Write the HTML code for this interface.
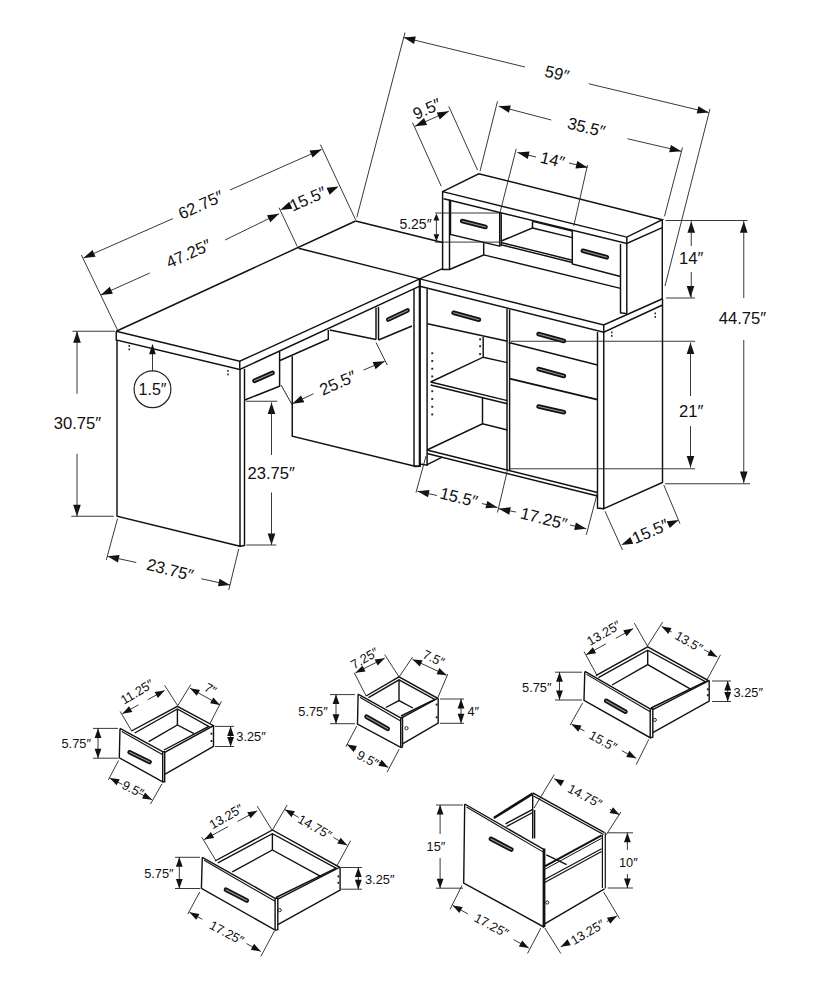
<!DOCTYPE html>
<html><head><meta charset="utf-8"><style>
html,body{margin:0;padding:0;background:#fff;}
svg{display:block;}
text{font-family:"Liberation Sans",sans-serif;fill:#111;}
</style></head><body>
<svg width="824" height="1000" viewBox="0 0 824 1000">
<polyline points="116.25,331.25 355.60,221.00" fill="none" stroke="#111" stroke-width="1.45" stroke-linejoin="miter" stroke-linecap="butt"/>
<polyline points="355.60,221.00 442.50,242.50" fill="none" stroke="#111" stroke-width="1.45" stroke-linejoin="miter" stroke-linecap="butt"/>
<polyline points="116.25,331.25 239.75,361.25 419.80,278.90 443.10,268.30" fill="none" stroke="#111" stroke-width="1.45" stroke-linejoin="miter" stroke-linecap="butt"/>
<polyline points="116.25,331.25 116.25,340.00 239.75,369.50 419.80,286.20" fill="none" stroke="#111" stroke-width="1.45" stroke-linejoin="miter" stroke-linecap="butt"/>
<polyline points="239.75,361.25 239.75,368.75" fill="none" stroke="#111" stroke-width="1.45" stroke-linejoin="miter" stroke-linecap="butt"/>
<polyline points="298.50,248.20 419.80,278.90" fill="none" stroke="#111" stroke-width="1.45" stroke-linejoin="miter" stroke-linecap="butt"/>
<polyline points="117.00,340.00 117.00,516.25 240.00,546.25 240.00,368.75" fill="none" stroke="#111" stroke-width="1.45" stroke-linejoin="miter" stroke-linecap="butt"/>
<polyline points="244.50,368.75 244.50,546.00" fill="none" stroke="#111" stroke-width="1.45" stroke-linejoin="miter" stroke-linecap="butt"/>
<polyline points="240.00,546.25 244.50,545.50" fill="none" stroke="#111" stroke-width="1.45" stroke-linejoin="miter" stroke-linecap="butt"/>
<polyline points="244.75,400.00 279.60,386.25 279.60,351.40" fill="none" stroke="#111" stroke-width="1.45" stroke-linejoin="miter" stroke-linecap="butt"/>
<line x1="254.51" y1="380.81" x2="272.49" y2="372.94" stroke="#111" stroke-width="4.6" stroke-linecap="round"/>
<line x1="254.51" y1="380.81" x2="272.49" y2="372.94" stroke="#9a9a9a" stroke-width="1.1" stroke-linecap="round"/>
<polyline points="281.00,385.00 292.25,405.00" fill="none" stroke="#111" stroke-width="0.9" stroke-linejoin="miter" stroke-linecap="butt"/>
<polyline points="292.25,356.25 292.25,436.25 415.00,466.25" fill="none" stroke="#111" stroke-width="1.45" stroke-linejoin="miter" stroke-linecap="butt"/>
<polyline points="280.00,360.50 328.30,339.20 328.30,330.00" fill="none" stroke="#111" stroke-width="1.45" stroke-linejoin="miter" stroke-linecap="butt"/>
<polyline points="329.75,330.00 376.00,339.50" fill="none" stroke="#111" stroke-width="1.45" stroke-linejoin="miter" stroke-linecap="butt"/>
<polyline points="376.00,339.50 376.00,307.50" fill="none" stroke="#111" stroke-width="1.45" stroke-linejoin="miter" stroke-linecap="butt"/>
<polyline points="378.50,340.00 378.50,307.00" fill="none" stroke="#111" stroke-width="1.45" stroke-linejoin="miter" stroke-linecap="butt"/>
<polyline points="378.50,340.00 412.00,326.00" fill="none" stroke="#111" stroke-width="1.45" stroke-linejoin="miter" stroke-linecap="butt"/>
<line x1="388.25" y1="319.53" x2="407.5" y2="310.47" stroke="#111" stroke-width="4.6" stroke-linecap="round"/>
<line x1="388.25" y1="319.53" x2="407.5" y2="310.47" stroke="#9a9a9a" stroke-width="1.1" stroke-linecap="round"/>
<polyline points="414.00,289.00 414.00,466.25" fill="none" stroke="#111" stroke-width="1.45" stroke-linejoin="miter" stroke-linecap="butt"/>
<polyline points="419.80,278.90 419.80,466.00 414.00,466.25" fill="none" stroke="#111" stroke-width="2.2" stroke-linejoin="miter" stroke-linecap="butt"/>
<polyline points="427.10,289.10 427.10,465.10 419.80,464.00" fill="none" stroke="#111" stroke-width="1.45" stroke-linejoin="miter" stroke-linecap="butt"/>
<polyline points="419.80,278.90 603.75,325.00 662.50,298.75" fill="none" stroke="#111" stroke-width="1.45" stroke-linejoin="miter" stroke-linecap="butt"/>
<polyline points="419.80,286.20 603.75,332.20 662.50,305.00" fill="none" stroke="#111" stroke-width="1.45" stroke-linejoin="miter" stroke-linecap="butt"/>
<polyline points="603.75,325.00 603.75,331.25" fill="none" stroke="#111" stroke-width="1.45" stroke-linejoin="miter" stroke-linecap="butt"/>
<polyline points="662.50,298.75 662.50,482.50 603.75,508.75 603.75,331.25" fill="none" stroke="#111" stroke-width="1.45" stroke-linejoin="miter" stroke-linecap="butt"/>
<polyline points="597.50,332.00 597.50,508.00 603.75,508.75" fill="none" stroke="#111" stroke-width="1.45" stroke-linejoin="miter" stroke-linecap="butt"/>
<polyline points="427.50,323.75 507.50,341.25" fill="none" stroke="#111" stroke-width="1.45" stroke-linejoin="miter" stroke-linecap="butt"/>
<line x1="453.56" y1="312.79" x2="478.94" y2="319.71" stroke="#111" stroke-width="4.6" stroke-linecap="round"/>
<line x1="453.56" y1="312.79" x2="478.94" y2="319.71" stroke="#9a9a9a" stroke-width="1.1" stroke-linecap="round"/>
<polyline points="507.00,309.00 507.00,470.00" fill="none" stroke="#111" stroke-width="1.45" stroke-linejoin="miter" stroke-linecap="butt"/>
<polyline points="509.60,309.60 509.60,470.00" fill="none" stroke="#111" stroke-width="1.45" stroke-linejoin="miter" stroke-linecap="butt"/>
<polyline points="508.75,342.50 597.50,365.00" fill="none" stroke="#111" stroke-width="1.45" stroke-linejoin="miter" stroke-linecap="butt"/>
<line x1="538.56" y1="334.04" x2="563.94" y2="340.96" stroke="#111" stroke-width="4.6" stroke-linecap="round"/>
<line x1="538.56" y1="334.04" x2="563.94" y2="340.96" stroke="#9a9a9a" stroke-width="1.1" stroke-linecap="round"/>
<polyline points="509.60,378.60 597.50,399.60" fill="none" stroke="#111" stroke-width="2.0" stroke-linejoin="miter" stroke-linecap="butt"/>
<line x1="538.56" y1="369.04" x2="563.94" y2="375.96" stroke="#111" stroke-width="4.6" stroke-linecap="round"/>
<line x1="538.56" y1="369.04" x2="563.94" y2="375.96" stroke="#9a9a9a" stroke-width="1.1" stroke-linecap="round"/>
<line x1="538.57" y1="406.49" x2="563.93" y2="412.26" stroke="#111" stroke-width="4.6" stroke-linecap="round"/>
<line x1="538.57" y1="406.49" x2="563.93" y2="412.26" stroke="#9a9a9a" stroke-width="1.1" stroke-linecap="round"/>
<polyline points="430.60,382.00 507.30,400.60" fill="none" stroke="#111" stroke-width="1.45" stroke-linejoin="miter" stroke-linecap="butt"/>
<polyline points="430.60,382.00 483.20,357.20 507.30,362.60" fill="none" stroke="#111" stroke-width="1.45" stroke-linejoin="miter" stroke-linecap="butt"/>
<polyline points="483.20,337.00 483.20,357.20" fill="none" stroke="#111" stroke-width="1.45" stroke-linejoin="miter" stroke-linecap="butt"/>
<polyline points="430.60,385.00 507.30,403.70" fill="none" stroke="#111" stroke-width="1.45" stroke-linejoin="miter" stroke-linecap="butt"/>
<polyline points="482.50,397.50 482.50,423.75" fill="none" stroke="#111" stroke-width="1.45" stroke-linejoin="miter" stroke-linecap="butt"/>
<polyline points="427.00,450.00 482.50,423.75 507.50,430.00" fill="none" stroke="#111" stroke-width="1.45" stroke-linejoin="miter" stroke-linecap="butt"/>
<polyline points="427.00,450.00 597.50,492.50" fill="none" stroke="#111" stroke-width="1.45" stroke-linejoin="miter" stroke-linecap="butt"/>
<polyline points="427.00,453.50 597.50,496.00" fill="none" stroke="#111" stroke-width="1.45" stroke-linejoin="miter" stroke-linecap="butt"/>
<rect x="431.3" y="352.3" width="1.9" height="1.9" fill="#222"/>
<rect x="431.3" y="360" width="1.9" height="1.9" fill="#222"/>
<rect x="431.3" y="367.8" width="1.9" height="1.9" fill="#222"/>
<rect x="431.3" y="375.5" width="1.9" height="1.9" fill="#222"/>
<rect x="431.3" y="390.3" width="1.9" height="1.9" fill="#222"/>
<rect x="431.3" y="398" width="1.9" height="1.9" fill="#222"/>
<rect x="431.3" y="405.8" width="1.9" height="1.9" fill="#222"/>
<rect x="431.3" y="413.5" width="1.9" height="1.9" fill="#222"/>
<rect x="479.2" y="338.4" width="1.9" height="1.9" fill="#222"/>
<rect x="479.2" y="345.3" width="1.9" height="1.9" fill="#222"/>
<rect x="479.2" y="353.1" width="1.9" height="1.9" fill="#222"/>
<rect x="128.5" y="345" width="1.5" height="1.8" fill="#222"/>
<rect x="128.5" y="348.5" width="1.5" height="1.8" fill="#222"/>
<rect x="227.2" y="370" width="1.5" height="1.8" fill="#222"/>
<rect x="227.2" y="373.5" width="1.5" height="1.8" fill="#222"/>
<rect x="654.5" y="312.5" width="1.5" height="1.8" fill="#222"/>
<rect x="654.5" y="316" width="1.5" height="1.8" fill="#222"/>
<rect x="611" y="331.5" width="1.5" height="1.8" fill="#222"/>
<rect x="611" y="335" width="1.5" height="1.8" fill="#222"/>
<polyline points="442.60,191.60 478.75,173.75 662.30,219.70 626.80,237.10 442.60,191.60 442.60,269.50 449.50,269.50 449.50,199.50" fill="none" stroke="#111" stroke-width="1.45" stroke-linejoin="miter" stroke-linecap="butt"/>
<polyline points="443.60,198.80 626.80,243.40 662.30,227.60" fill="none" stroke="#111" stroke-width="1.45" stroke-linejoin="miter" stroke-linecap="butt"/>
<polyline points="626.80,237.10 626.80,313.60" fill="none" stroke="#111" stroke-width="1.45" stroke-linejoin="miter" stroke-linecap="butt"/>
<polyline points="662.30,219.70 662.30,298.75" fill="none" stroke="#111" stroke-width="1.45" stroke-linejoin="miter" stroke-linecap="butt"/>
<polyline points="620.50,244.00 620.50,312.80 626.80,313.60" fill="none" stroke="#111" stroke-width="1.45" stroke-linejoin="miter" stroke-linecap="butt"/>
<polyline points="449.50,269.50 483.70,254.90 483.70,242.50" fill="none" stroke="#111" stroke-width="1.45" stroke-linejoin="miter" stroke-linecap="butt"/>
<polyline points="450.50,201.00 450.50,234.50 499.70,246.20 499.70,212.70" fill="none" stroke="#111" stroke-width="1.45" stroke-linejoin="miter" stroke-linecap="butt"/>
<line x1="462.17" y1="220.97" x2="485.53" y2="226.93" stroke="#111" stroke-width="4.6" stroke-linecap="round"/>
<line x1="462.17" y1="220.97" x2="485.53" y2="226.93" stroke="#9a9a9a" stroke-width="1.1" stroke-linecap="round"/>
<polyline points="501.20,213.00 501.20,246.20" fill="none" stroke="#111" stroke-width="1.45" stroke-linejoin="miter" stroke-linecap="butt"/>
<polyline points="501.20,241.00 532.50,228.00 532.50,221.40" fill="none" stroke="#111" stroke-width="1.45" stroke-linejoin="miter" stroke-linecap="butt"/>
<polyline points="532.50,228.00 572.30,237.60" fill="none" stroke="#111" stroke-width="1.45" stroke-linejoin="miter" stroke-linecap="butt"/>
<polyline points="532.50,221.40 572.30,231.00" fill="none" stroke="#111" stroke-width="1.45" stroke-linejoin="miter" stroke-linecap="butt"/>
<polyline points="501.20,242.50 572.30,260.20" fill="none" stroke="#111" stroke-width="1.45" stroke-linejoin="miter" stroke-linecap="butt"/>
<polyline points="501.20,244.70 572.30,262.50" fill="none" stroke="#111" stroke-width="1.45" stroke-linejoin="miter" stroke-linecap="butt"/>
<polyline points="483.70,254.90 620.50,288.40" fill="none" stroke="#111" stroke-width="1.45" stroke-linejoin="miter" stroke-linecap="butt"/>
<polyline points="572.30,230.80 572.30,263.90 620.50,276.50" fill="none" stroke="#111" stroke-width="1.45" stroke-linejoin="miter" stroke-linecap="butt"/>
<line x1="582.86" y1="250.79" x2="606.74" y2="257.31" stroke="#111" stroke-width="4.6" stroke-linecap="round"/>
<line x1="582.86" y1="250.79" x2="606.74" y2="257.31" stroke="#9a9a9a" stroke-width="1.1" stroke-linecap="round"/>
<polyline points="81.40,255.00 118.00,331.00" fill="none" stroke="#222" stroke-width="0.9" stroke-linejoin="miter" stroke-linecap="butt"/>
<polyline points="320.40,144.60 355.60,219.80" fill="none" stroke="#222" stroke-width="0.9" stroke-linejoin="miter" stroke-linecap="butt"/>
<polyline points="83.50,258.00 172.90,218.60" fill="none" stroke="#222" stroke-width="0.9" stroke-linejoin="miter" stroke-linecap="butt"/>
<polyline points="230.00,190.00 321.60,149.40" fill="none" stroke="#222" stroke-width="0.9" stroke-linejoin="miter" stroke-linecap="butt"/>
<polygon points="83.50,258.00 95.56,256.84 92.49,249.88" fill="#111"/>
<polygon points="321.60,149.40 309.55,150.59 312.63,157.53" fill="#111"/>
<text x="200.80" y="205.00" font-size="16.6" text-anchor="middle" dominant-baseline="central" transform="rotate(-24.00 200.80 205.00)">62.75&#8243;</text>
<polyline points="100.80,295.00 149.80,273.00" fill="none" stroke="#222" stroke-width="0.9" stroke-linejoin="miter" stroke-linecap="butt"/>
<polyline points="225.00,240.00 279.00,213.70" fill="none" stroke="#222" stroke-width="0.9" stroke-linejoin="miter" stroke-linecap="butt"/>
<polygon points="100.80,295.00 112.85,293.76 109.73,286.82" fill="#111"/>
<polygon points="279.00,213.70 267.00,215.32 270.32,222.15" fill="#111"/>
<text x="188.60" y="253.80" font-size="16.6" text-anchor="middle" dominant-baseline="central" transform="rotate(-24.00 188.60 253.80)">47.25&#8243;</text>
<polyline points="279.00,207.70 297.30,246.50" fill="none" stroke="#222" stroke-width="0.9" stroke-linejoin="miter" stroke-linecap="butt"/>
<polygon points="280.30,210.00 292.34,208.71 289.20,201.79" fill="#111"/>
<polygon points="338.60,186.60 326.55,187.86 329.68,194.79" fill="#111"/>
<text x="308.00" y="199.00" font-size="16.6" text-anchor="middle" dominant-baseline="central" transform="rotate(-24.00 308.00 199.00)">15.5&#8243;</text>
<polyline points="405.00,32.50 356.80,217.40" fill="none" stroke="#222" stroke-width="0.9" stroke-linejoin="miter" stroke-linecap="butt"/>
<polyline points="710.00,108.75 665.00,286.00" fill="none" stroke="#222" stroke-width="0.9" stroke-linejoin="miter" stroke-linecap="butt"/>
<polyline points="403.75,37.50 525.00,67.00" fill="none" stroke="#222" stroke-width="0.9" stroke-linejoin="miter" stroke-linecap="butt"/>
<polyline points="588.75,83.75 708.75,112.50" fill="none" stroke="#222" stroke-width="0.9" stroke-linejoin="miter" stroke-linecap="butt"/>
<polygon points="403.75,37.50 414.03,43.91 415.82,36.53" fill="#111"/>
<polygon points="708.75,112.50 698.45,106.13 696.68,113.52" fill="#111"/>
<text x="557.00" y="73.75" font-size="16.6" text-anchor="middle" dominant-baseline="central" transform="rotate(14.00 557.00 73.75)">59&#8243;</text>
<polyline points="412.50,122.50 441.25,186.25" fill="none" stroke="#222" stroke-width="0.9" stroke-linejoin="miter" stroke-linecap="butt"/>
<polyline points="448.75,106.25 477.50,170.00" fill="none" stroke="#222" stroke-width="0.9" stroke-linejoin="miter" stroke-linecap="butt"/>
<polyline points="415.00,126.25 448.75,111.25" fill="none" stroke="#222" stroke-width="0.9" stroke-linejoin="miter" stroke-linecap="butt"/>
<polygon points="415.00,126.25 427.05,125.05 423.97,118.11" fill="#111"/>
<polygon points="448.75,111.25 436.70,112.45 439.78,119.39" fill="#111"/>
<text x="427.00" y="109.00" font-size="16.6" text-anchor="middle" dominant-baseline="central" transform="rotate(-24.00 427.00 109.00)">9.5&#8243;</text>
<polyline points="497.50,101.25 480.00,171.25" fill="none" stroke="#222" stroke-width="0.9" stroke-linejoin="miter" stroke-linecap="butt"/>
<polyline points="682.50,147.50 664.50,216.25" fill="none" stroke="#222" stroke-width="0.9" stroke-linejoin="miter" stroke-linecap="butt"/>
<polyline points="498.75,106.25 551.25,120.00" fill="none" stroke="#222" stroke-width="0.9" stroke-linejoin="miter" stroke-linecap="butt"/>
<polyline points="627.50,138.75 681.25,151.25" fill="none" stroke="#222" stroke-width="0.9" stroke-linejoin="miter" stroke-linecap="butt"/>
<polygon points="498.75,106.25 508.91,112.84 510.84,105.49" fill="#111"/>
<polygon points="681.25,151.25 670.91,144.94 669.19,152.35" fill="#111"/>
<text x="586.25" y="127.50" font-size="16.6" text-anchor="middle" dominant-baseline="central" transform="rotate(14.00 586.25 127.50)">35.5&#8243;</text>
<polyline points="516.25,148.75 500.00,212.50" fill="none" stroke="#222" stroke-width="0.9" stroke-linejoin="miter" stroke-linecap="butt"/>
<polyline points="587.50,165.00 573.75,226.00" fill="none" stroke="#222" stroke-width="0.9" stroke-linejoin="miter" stroke-linecap="butt"/>
<polyline points="517.50,152.50 536.00,157.00" fill="none" stroke="#222" stroke-width="0.9" stroke-linejoin="miter" stroke-linecap="butt"/>
<polyline points="569.00,163.00 587.50,167.50" fill="none" stroke="#222" stroke-width="0.9" stroke-linejoin="miter" stroke-linecap="butt"/>
<polygon points="517.50,152.50 527.78,158.91 529.57,151.53" fill="#111"/>
<polygon points="587.50,167.50 577.22,161.09 575.43,168.47" fill="#111"/>
<text x="552.50" y="160.00" font-size="16.6" text-anchor="middle" dominant-baseline="central" transform="rotate(14.00 552.50 160.00)">14&#8243;</text>
<polyline points="435.00,213.00 500.00,213.00" fill="none" stroke="#222" stroke-width="0.9" stroke-linejoin="miter" stroke-linecap="butt"/>
<polyline points="435.00,242.10 500.00,242.10" fill="none" stroke="#222" stroke-width="0.9" stroke-linejoin="miter" stroke-linecap="butt"/>
<polygon points="436.40,213.60 433.50,220.60 439.30,220.60" fill="#111"/>
<polygon points="436.40,241.20 439.30,234.20 433.50,234.20" fill="#111"/>
<polyline points="436.40,218.00 436.40,236.00" fill="none" stroke="#222" stroke-width="0.9" stroke-linejoin="miter" stroke-linecap="butt"/>
<text x="415.50" y="224.40" font-size="14" text-anchor="middle" dominant-baseline="central" transform="rotate(0.00 415.50 224.40)">5.25&#8243;</text>
<polyline points="665.50,220.50 747.50,220.50" fill="none" stroke="#222" stroke-width="0.9" stroke-linejoin="miter" stroke-linecap="butt"/>
<polyline points="666.00,298.00 695.00,298.00" fill="none" stroke="#222" stroke-width="0.9" stroke-linejoin="miter" stroke-linecap="butt"/>
<polygon points="691.25,221.25 687.45,232.75 695.05,232.75" fill="#111"/>
<polygon points="690.50,297.50 694.30,286.00 686.70,286.00" fill="#111"/>
<polyline points="691.25,221.25 691.25,246.00" fill="none" stroke="#222" stroke-width="0.9" stroke-linejoin="miter" stroke-linecap="butt"/>
<polyline points="691.25,272.00 691.25,297.50" fill="none" stroke="#222" stroke-width="0.9" stroke-linejoin="miter" stroke-linecap="butt"/>
<text x="691.25" y="258.75" font-size="16.6" text-anchor="middle" dominant-baseline="central" transform="rotate(0.00 691.25 258.75)">14&#8243;</text>
<polygon points="743.75,221.25 739.95,232.75 747.55,232.75" fill="#111"/>
<polygon points="743.75,483.00 747.55,471.50 739.95,471.50" fill="#111"/>
<polyline points="743.75,221.25 743.75,298.00" fill="none" stroke="#222" stroke-width="0.9" stroke-linejoin="miter" stroke-linecap="butt"/>
<polyline points="743.75,340.00 743.75,483.00" fill="none" stroke="#222" stroke-width="0.9" stroke-linejoin="miter" stroke-linecap="butt"/>
<polyline points="665.00,483.75 750.00,483.75" fill="none" stroke="#222" stroke-width="0.9" stroke-linejoin="miter" stroke-linecap="butt"/>
<text x="742.50" y="318.75" font-size="16.6" text-anchor="middle" dominant-baseline="central" transform="rotate(0.00 742.50 318.75)">44.75&#8243;</text>
<polyline points="511.00,341.25 695.00,341.25" fill="none" stroke="#222" stroke-width="0.9" stroke-linejoin="miter" stroke-linecap="butt"/>
<polyline points="510.00,468.75 695.00,468.75" fill="none" stroke="#222" stroke-width="0.9" stroke-linejoin="miter" stroke-linecap="butt"/>
<polygon points="690.50,342.50 686.70,354.00 694.30,354.00" fill="#111"/>
<polygon points="690.50,467.50 694.30,456.00 686.70,456.00" fill="#111"/>
<polyline points="690.50,342.50 690.50,396.00" fill="none" stroke="#222" stroke-width="0.9" stroke-linejoin="miter" stroke-linecap="butt"/>
<polyline points="690.50,426.00 690.50,467.50" fill="none" stroke="#222" stroke-width="0.9" stroke-linejoin="miter" stroke-linecap="butt"/>
<text x="691.25" y="411.25" font-size="16.6" text-anchor="middle" dominant-baseline="central" transform="rotate(0.00 691.25 411.25)">21&#8243;</text>
<polyline points="72.50,331.25 115.00,331.25" fill="none" stroke="#222" stroke-width="0.9" stroke-linejoin="miter" stroke-linecap="butt"/>
<polyline points="71.25,516.25 113.75,516.25" fill="none" stroke="#222" stroke-width="0.9" stroke-linejoin="miter" stroke-linecap="butt"/>
<polygon points="77.00,331.25 73.20,342.75 80.80,342.75" fill="#111"/>
<polygon points="77.00,516.25 80.80,504.75 73.20,504.75" fill="#111"/>
<polyline points="77.00,331.25 77.00,393.75" fill="none" stroke="#222" stroke-width="0.9" stroke-linejoin="miter" stroke-linecap="butt"/>
<polyline points="77.00,453.75 77.00,516.25" fill="none" stroke="#222" stroke-width="0.9" stroke-linejoin="miter" stroke-linecap="butt"/>
<text x="77.50" y="423.75" font-size="16.6" text-anchor="middle" dominant-baseline="central" transform="rotate(0.00 77.50 423.75)">30.75&#8243;</text>
<circle cx="152.5" cy="389.2" r="18.4" fill="none" stroke="#222" stroke-width="1.2"/>
<polyline points="152.50,371.00 152.50,350.00" fill="none" stroke="#222" stroke-width="0.9" stroke-linejoin="miter" stroke-linecap="butt"/>
<polygon points="152.50,343.70 149.20,354.20 155.80,354.20" fill="#111"/>
<text x="152.50" y="389.00" font-size="16" text-anchor="middle" dominant-baseline="central" transform="rotate(0.00 152.50 389.00)">1.5&#8243;</text>
<polygon points="292.25,403.75 304.27,402.29 301.04,395.42" fill="#111"/>
<polygon points="384.75,361.25 372.67,362.11 375.56,369.14" fill="#111"/>
<polyline points="292.25,403.75 313.50,393.75" fill="none" stroke="#222" stroke-width="0.9" stroke-linejoin="miter" stroke-linecap="butt"/>
<polyline points="363.50,370.00 384.75,361.25" fill="none" stroke="#222" stroke-width="0.9" stroke-linejoin="miter" stroke-linecap="butt"/>
<polyline points="376.00,342.50 387.25,365.00" fill="none" stroke="#222" stroke-width="0.9" stroke-linejoin="miter" stroke-linecap="butt"/>
<text x="338.00" y="383.00" font-size="16.6" text-anchor="middle" dominant-baseline="central" transform="rotate(-24.00 338.00 383.00)">25.5&#8243;</text>
<polyline points="246.00,401.25 277.25,401.25" fill="none" stroke="#222" stroke-width="0.9" stroke-linejoin="miter" stroke-linecap="butt"/>
<polyline points="246.25,545.00 276.25,545.00" fill="none" stroke="#222" stroke-width="0.9" stroke-linejoin="miter" stroke-linecap="butt"/>
<polygon points="271.50,402.50 267.70,414.00 275.30,414.00" fill="#111"/>
<polygon points="271.50,545.00 275.30,533.50 267.70,533.50" fill="#111"/>
<polyline points="271.50,402.50 271.50,455.00" fill="none" stroke="#222" stroke-width="0.9" stroke-linejoin="miter" stroke-linecap="butt"/>
<polyline points="271.50,492.50 271.50,545.00" fill="none" stroke="#222" stroke-width="0.9" stroke-linejoin="miter" stroke-linecap="butt"/>
<text x="271.25" y="473.75" font-size="16.6" text-anchor="middle" dominant-baseline="central" transform="rotate(0.00 271.25 473.75)">23.75&#8243;</text>
<polyline points="117.50,518.75 106.25,560.00" fill="none" stroke="#222" stroke-width="0.9" stroke-linejoin="miter" stroke-linecap="butt"/>
<polyline points="238.75,548.75 228.75,590.00" fill="none" stroke="#222" stroke-width="0.9" stroke-linejoin="miter" stroke-linecap="butt"/>
<polygon points="107.50,556.25 117.93,562.41 119.54,554.98" fill="#111"/>
<polygon points="230.00,585.00 219.57,578.84 217.96,586.27" fill="#111"/>
<polyline points="107.50,556.25 136.25,562.50" fill="none" stroke="#222" stroke-width="0.9" stroke-linejoin="miter" stroke-linecap="butt"/>
<polyline points="201.25,578.75 230.00,585.00" fill="none" stroke="#222" stroke-width="0.9" stroke-linejoin="miter" stroke-linecap="butt"/>
<text x="170.00" y="570.00" font-size="16.6" text-anchor="middle" dominant-baseline="central" transform="rotate(14.00 170.00 570.00)">23.75&#8243;</text>
<polyline points="426.00,456.00 416.00,492.50" fill="none" stroke="#222" stroke-width="0.9" stroke-linejoin="miter" stroke-linecap="butt"/>
<polyline points="507.50,470.00 497.50,512.50" fill="none" stroke="#222" stroke-width="0.9" stroke-linejoin="miter" stroke-linecap="butt"/>
<polygon points="417.50,491.25 427.97,497.34 429.54,489.91" fill="#111"/>
<polygon points="497.50,507.50 487.31,500.96 485.42,508.32" fill="#111"/>
<polyline points="417.50,491.25 437.00,495.50" fill="none" stroke="#222" stroke-width="0.9" stroke-linejoin="miter" stroke-linecap="butt"/>
<polyline points="482.00,503.50 497.50,507.50" fill="none" stroke="#222" stroke-width="0.9" stroke-linejoin="miter" stroke-linecap="butt"/>
<text x="458.75" y="497.50" font-size="16.6" text-anchor="middle" dominant-baseline="central" transform="rotate(14.00 458.75 497.50)">15.5&#8243;</text>
<polyline points="597.50,492.50 586.25,535.00" fill="none" stroke="#222" stroke-width="0.9" stroke-linejoin="miter" stroke-linecap="butt"/>
<polygon points="498.75,508.75 509.28,514.73 510.77,507.28" fill="#111"/>
<polygon points="586.25,528.75 575.86,522.53 574.20,529.95" fill="#111"/>
<polyline points="498.75,508.75 516.00,512.00" fill="none" stroke="#222" stroke-width="0.9" stroke-linejoin="miter" stroke-linecap="butt"/>
<polyline points="570.00,525.00 586.25,528.75" fill="none" stroke="#222" stroke-width="0.9" stroke-linejoin="miter" stroke-linecap="butt"/>
<text x="543.75" y="518.75" font-size="16.6" text-anchor="middle" dominant-baseline="central" transform="rotate(14.00 543.75 518.75)">17.25&#8243;</text>
<polyline points="605.00,511.25 622.50,550.00" fill="none" stroke="#222" stroke-width="0.9" stroke-linejoin="miter" stroke-linecap="butt"/>
<polyline points="663.75,485.00 680.00,523.75" fill="none" stroke="#222" stroke-width="0.9" stroke-linejoin="miter" stroke-linecap="butt"/>
<polygon points="621.25,545.00 633.31,543.86 630.25,536.90" fill="#111"/>
<polygon points="678.75,520.00 666.69,521.14 669.75,528.10" fill="#111"/>
<text x="650.50" y="531.50" font-size="16.6" text-anchor="middle" dominant-baseline="central" transform="rotate(-24.00 650.50 531.50)">15.5&#8243;</text>
<polyline points="426.70,464.90 442.20,457.10" fill="none" stroke="#111" stroke-width="1.45" stroke-linejoin="miter" stroke-linecap="butt"/>
<polyline points="120.00,728.40 119.30,757.80 162.70,781.80 162.70,751.70 120.00,728.40" fill="none" stroke="#111" stroke-width="1.4" stroke-linejoin="miter" stroke-linecap="butt"/>
<polyline points="162.70,751.70 164.70,751.70 164.70,781.80 162.70,781.80" fill="none" stroke="#111" stroke-width="1.4" stroke-linejoin="miter" stroke-linecap="butt"/>
<polyline points="131.40,731.00 177.40,706.30 213.50,725.70 164.70,752.40" fill="none" stroke="#111" stroke-width="1.4" stroke-linejoin="miter" stroke-linecap="butt"/>
<polyline points="134.70,733.00 177.40,709.00 208.80,726.40 164.00,750.00" fill="none" stroke="#111" stroke-width="1.4" stroke-linejoin="miter" stroke-linecap="butt"/>
<polyline points="213.50,725.70 213.50,746.40 164.70,774.40" fill="none" stroke="#111" stroke-width="1.4" stroke-linejoin="miter" stroke-linecap="butt"/>
<polyline points="177.40,709.00 177.40,725.00" fill="none" stroke="#111" stroke-width="1.4" stroke-linejoin="miter" stroke-linecap="butt"/>
<polyline points="148.70,741.70 177.40,725.00 194.00,733.70" fill="none" stroke="#111" stroke-width="1.4" stroke-linejoin="miter" stroke-linecap="butt"/>
<line x1="129.69" y1="752.28" x2="149.51" y2="762.02" stroke="#111" stroke-width="4.6" stroke-linecap="round"/>
<line x1="129.69" y1="752.28" x2="149.51" y2="762.02" stroke="#9a9a9a" stroke-width="1.1" stroke-linecap="round"/>
<polyline points="358.10,694.20 357.50,724.20 400.70,747.30 400.70,717.90 358.10,694.20" fill="none" stroke="#111" stroke-width="1.4" stroke-linejoin="miter" stroke-linecap="butt"/>
<polyline points="400.70,717.90 402.50,717.30 402.50,747.00 400.70,747.30" fill="none" stroke="#111" stroke-width="1.4" stroke-linejoin="miter" stroke-linecap="butt"/>
<polyline points="366.10,696.00 399.00,676.90 437.70,698.30 402.50,717.30" fill="none" stroke="#111" stroke-width="1.4" stroke-linejoin="miter" stroke-linecap="butt"/>
<polyline points="368.50,697.70 399.00,679.80 434.80,699.40 401.00,716.00" fill="none" stroke="#111" stroke-width="1.4" stroke-linejoin="miter" stroke-linecap="butt"/>
<polyline points="438.20,699.00 438.20,723.00 402.50,743.80" fill="none" stroke="#111" stroke-width="1.4" stroke-linejoin="miter" stroke-linecap="butt"/>
<polyline points="399.00,679.80 399.00,700.60" fill="none" stroke="#111" stroke-width="1.4" stroke-linejoin="miter" stroke-linecap="butt"/>
<polyline points="385.80,707.50 399.00,700.60 412.90,708.00" fill="none" stroke="#111" stroke-width="1.4" stroke-linejoin="miter" stroke-linecap="butt"/>
<line x1="366.55" y1="716.65" x2="387.65" y2="728.85" stroke="#111" stroke-width="4.6" stroke-linecap="round"/>
<line x1="366.55" y1="716.65" x2="387.65" y2="728.85" stroke="#9a9a9a" stroke-width="1.1" stroke-linecap="round"/>
<circle cx="406.5" cy="728.2" r="1.6" fill="none" stroke="#222" stroke-width="1"/>
<polyline points="584.80,671.40 584.00,700.30 650.20,737.70 650.20,708.80 584.80,671.40" fill="none" stroke="#111" stroke-width="1.4" stroke-linejoin="miter" stroke-linecap="butt"/>
<polyline points="650.20,708.80 652.80,708.80 652.80,737.20 650.20,737.70" fill="none" stroke="#111" stroke-width="1.4" stroke-linejoin="miter" stroke-linecap="butt"/>
<polyline points="595.80,675.70 647.70,646.80 708.80,680.80 652.80,709.70" fill="none" stroke="#111" stroke-width="1.4" stroke-linejoin="miter" stroke-linecap="butt"/>
<polyline points="598.40,677.70 647.70,650.20 705.40,681.60 651.00,708.00" fill="none" stroke="#111" stroke-width="1.4" stroke-linejoin="miter" stroke-linecap="butt"/>
<polyline points="709.20,681.00 709.20,701.20 652.80,732.60" fill="none" stroke="#111" stroke-width="1.4" stroke-linejoin="miter" stroke-linecap="butt"/>
<polyline points="647.70,650.20 647.70,664.60" fill="none" stroke="#111" stroke-width="1.4" stroke-linejoin="miter" stroke-linecap="butt"/>
<polyline points="612.00,685.00 647.70,664.60 691.00,689.30" fill="none" stroke="#111" stroke-width="1.4" stroke-linejoin="miter" stroke-linecap="butt"/>
<line x1="606.16" y1="700.84" x2="625.44" y2="711.66" stroke="#111" stroke-width="4.6" stroke-linecap="round"/>
<line x1="606.16" y1="700.84" x2="625.44" y2="711.66" stroke="#9a9a9a" stroke-width="1.1" stroke-linecap="round"/>
<circle cx="654.8" cy="719.9" r="1.6" fill="none" stroke="#222" stroke-width="1"/>
<polyline points="202.30,857.30 201.40,888.30 275.10,930.10 275.10,898.30 202.30,857.30" fill="none" stroke="#111" stroke-width="1.4" stroke-linejoin="miter" stroke-linecap="butt"/>
<polyline points="275.10,898.30 277.80,898.30 277.80,929.60 275.10,930.10" fill="none" stroke="#111" stroke-width="1.4" stroke-linejoin="miter" stroke-linecap="butt"/>
<polyline points="215.00,861.00 272.40,830.00 339.70,867.30 277.80,899.20" fill="none" stroke="#111" stroke-width="1.4" stroke-linejoin="miter" stroke-linecap="butt"/>
<polyline points="217.80,862.80 272.40,833.70 336.10,868.20 276.00,897.50" fill="none" stroke="#111" stroke-width="1.4" stroke-linejoin="miter" stroke-linecap="butt"/>
<polyline points="340.10,867.50 340.10,890.10 277.80,924.70" fill="none" stroke="#111" stroke-width="1.4" stroke-linejoin="miter" stroke-linecap="butt"/>
<polyline points="272.40,833.70 272.40,850.00" fill="none" stroke="#111" stroke-width="1.4" stroke-linejoin="miter" stroke-linecap="butt"/>
<polyline points="232.30,871.90 272.40,850.00 320.60,876.40" fill="none" stroke="#111" stroke-width="1.4" stroke-linejoin="miter" stroke-linecap="butt"/>
<line x1="225.98" y1="889.71" x2="246.82" y2="900.49" stroke="#111" stroke-width="4.6" stroke-linecap="round"/>
<line x1="225.98" y1="889.71" x2="246.82" y2="900.49" stroke="#9a9a9a" stroke-width="1.1" stroke-linecap="round"/>
<circle cx="279.7" cy="910.1" r="1.6" fill="none" stroke="#222" stroke-width="1"/>
<polyline points="464.70,804.00 463.70,883.00 543.30,926.70 543.30,849.10 464.70,804.00" fill="none" stroke="#111" stroke-width="1.4" stroke-linejoin="miter" stroke-linecap="butt"/>
<polyline points="543.30,849.10 544.70,849.10 544.70,926.50 543.30,926.70" fill="none" stroke="#111" stroke-width="1.4" stroke-linejoin="miter" stroke-linecap="butt"/>
<polyline points="493.80,818.00 532.70,793.70" fill="none" stroke="#111" stroke-width="2.6" stroke-linejoin="miter" stroke-linecap="butt"/>
<polyline points="505.50,823.80 532.70,809.30" fill="none" stroke="#111" stroke-width="1.4" stroke-linejoin="miter" stroke-linecap="butt"/>
<polyline points="506.50,826.50 532.70,812.50" fill="none" stroke="#111" stroke-width="1.4" stroke-linejoin="miter" stroke-linecap="butt"/>
<polyline points="532.70,793.70 532.70,838.40" fill="none" stroke="#111" stroke-width="1.4" stroke-linejoin="miter" stroke-linecap="butt"/>
<polyline points="534.60,810.00 534.60,838.40" fill="none" stroke="#111" stroke-width="1.4" stroke-linejoin="miter" stroke-linecap="butt"/>
<polyline points="532.70,792.80 604.50,832.60" fill="none" stroke="#111" stroke-width="1.4" stroke-linejoin="miter" stroke-linecap="butt"/>
<polyline points="533.50,796.00 603.50,834.50" fill="none" stroke="#111" stroke-width="1.4" stroke-linejoin="miter" stroke-linecap="butt"/>
<polyline points="605.30,832.60 605.30,888.50" fill="none" stroke="#111" stroke-width="1.2" stroke-linejoin="miter" stroke-linecap="butt"/>
<polyline points="602.40,835.00 602.40,888.00" fill="none" stroke="#111" stroke-width="1.2" stroke-linejoin="miter" stroke-linecap="butt"/>
<polyline points="544.70,866.40 601.60,835.30" fill="none" stroke="#111" stroke-width="2.0" stroke-linejoin="miter" stroke-linecap="butt"/>
<polyline points="544.70,869.40 601.60,838.30" fill="none" stroke="#111" stroke-width="1.0" stroke-linejoin="miter" stroke-linecap="butt"/>
<polyline points="544.70,879.50 601.60,848.70" fill="none" stroke="#111" stroke-width="1.2" stroke-linejoin="miter" stroke-linecap="butt"/>
<polyline points="544.70,882.50 601.60,851.50" fill="none" stroke="#111" stroke-width="1.2" stroke-linejoin="miter" stroke-linecap="butt"/>
<polyline points="544.70,923.80 604.50,888.90" fill="none" stroke="#111" stroke-width="1.4" stroke-linejoin="miter" stroke-linecap="butt"/>
<polyline points="546.30,854.90 566.70,864.60" fill="none" stroke="#111" stroke-width="1.4" stroke-linejoin="miter" stroke-linecap="butt"/>
<line x1="490.98" y1="838.91" x2="511.32" y2="849.49" stroke="#111" stroke-width="4.6" stroke-linecap="round"/>
<line x1="490.98" y1="838.91" x2="511.32" y2="849.49" stroke="#9a9a9a" stroke-width="1.1" stroke-linecap="round"/>
<circle cx="547.2" cy="902.5" r="1.6" fill="none" stroke="#222" stroke-width="1"/>
<polyline points="93.00,728.40 118.00,728.40" fill="none" stroke="#222" stroke-width="0.9" stroke-linejoin="miter" stroke-linecap="butt"/>
<polyline points="93.00,758.20 118.00,758.20" fill="none" stroke="#222" stroke-width="0.9" stroke-linejoin="miter" stroke-linecap="butt"/>
<polyline points="98.00,728.40 98.00,758.20" fill="none" stroke="#222" stroke-width="0.9" stroke-linejoin="miter" stroke-linecap="butt"/>
<polygon points="98.00,728.40 94.60,737.90 101.40,737.90" fill="#111"/>
<polygon points="98.00,758.20 101.40,748.70 94.60,748.70" fill="#111"/>
<text x="76.20" y="743.60" font-size="12.8" text-anchor="middle" dominant-baseline="central" transform="rotate(0.00 76.20 743.60)">5.75&#8243;</text>
<polyline points="215.00,726.40 234.00,726.40" fill="none" stroke="#222" stroke-width="0.9" stroke-linejoin="miter" stroke-linecap="butt"/>
<polyline points="215.00,746.50 234.00,746.50" fill="none" stroke="#222" stroke-width="0.9" stroke-linejoin="miter" stroke-linecap="butt"/>
<polyline points="230.60,726.40 230.60,746.50" fill="none" stroke="#222" stroke-width="0.9" stroke-linejoin="miter" stroke-linecap="butt"/>
<polygon points="230.60,726.40 227.20,735.90 234.00,735.90" fill="#111"/>
<polygon points="230.60,746.50 234.00,737.00 227.20,737.00" fill="#111"/>
<text x="251.00" y="736.30" font-size="12.8" text-anchor="middle" dominant-baseline="central" transform="rotate(0.00 251.00 736.30)">3.25&#8243;</text>
<polyline points="118.50,760.50 108.30,780.00" fill="none" stroke="#222" stroke-width="0.9" stroke-linejoin="miter" stroke-linecap="butt"/>
<polyline points="162.00,783.80 150.50,804.00" fill="none" stroke="#222" stroke-width="0.9" stroke-linejoin="miter" stroke-linecap="butt"/>
<polyline points="109.70,778.00 122.39,784.54" fill="none" stroke="#222" stroke-width="0.9" stroke-linejoin="miter" stroke-linecap="butt"/>
<polyline points="138.46,792.82 152.00,799.80" fill="none" stroke="#222" stroke-width="0.9" stroke-linejoin="miter" stroke-linecap="butt"/>
<polygon points="109.70,778.00 116.59,785.37 119.70,779.33" fill="#111"/>
<polygon points="152.00,799.80 145.11,792.43 142.00,798.47" fill="#111"/>
<text x="133.00" y="789.00" font-size="12.8" text-anchor="middle" dominant-baseline="central" transform="rotate(27.00 133.00 789.00)">9.5&#8243;</text>
<polyline points="120.20,711.50 131.80,731.20" fill="none" stroke="#222" stroke-width="0.9" stroke-linejoin="miter" stroke-linecap="butt"/>
<polyline points="164.60,685.30 177.70,705.70" fill="none" stroke="#222" stroke-width="0.9" stroke-linejoin="miter" stroke-linecap="butt"/>
<polyline points="122.40,713.70 138.44,704.85" fill="none" stroke="#222" stroke-width="0.9" stroke-linejoin="miter" stroke-linecap="butt"/>
<polyline points="147.72,699.72 164.60,690.40" fill="none" stroke="#222" stroke-width="0.9" stroke-linejoin="miter" stroke-linecap="butt"/>
<polygon points="122.40,713.70 132.36,712.08 129.07,706.13" fill="#111"/>
<polygon points="164.60,690.40 154.64,692.02 157.93,697.97" fill="#111"/>
<text x="137.00" y="691.80" font-size="12.8" text-anchor="middle" dominant-baseline="central" transform="rotate(-31.00 137.00 691.80)">11.25&#8243;</text>
<polyline points="190.80,684.60 177.70,705.70" fill="none" stroke="#222" stroke-width="0.9" stroke-linejoin="miter" stroke-linecap="butt"/>
<polyline points="221.40,701.30 209.80,723.90" fill="none" stroke="#222" stroke-width="0.9" stroke-linejoin="miter" stroke-linecap="butt"/>
<polyline points="190.10,688.20 220.00,705.00" fill="none" stroke="#222" stroke-width="0.9" stroke-linejoin="miter" stroke-linecap="butt"/>
<polygon points="190.10,688.20 196.72,695.82 200.05,689.89" fill="#111"/>
<polygon points="220.00,705.00 213.38,697.38 210.05,703.31" fill="#111"/>
<text x="210.50" y="689.00" font-size="12.8" text-anchor="middle" dominant-baseline="central" transform="rotate(30.00 210.50 689.00)">7&#8243;</text>
<polyline points="330.00,694.60 355.00,694.60" fill="none" stroke="#222" stroke-width="0.9" stroke-linejoin="miter" stroke-linecap="butt"/>
<polyline points="330.00,723.70 355.00,723.70" fill="none" stroke="#222" stroke-width="0.9" stroke-linejoin="miter" stroke-linecap="butt"/>
<polyline points="336.00,694.60 336.00,723.70" fill="none" stroke="#222" stroke-width="0.9" stroke-linejoin="miter" stroke-linecap="butt"/>
<polygon points="336.00,694.60 332.60,704.10 339.40,704.10" fill="#111"/>
<polygon points="336.00,723.70 339.40,714.20 332.60,714.20" fill="#111"/>
<text x="313.00" y="711.00" font-size="12.8" text-anchor="middle" dominant-baseline="central" transform="rotate(0.00 313.00 711.00)">5.75&#8243;</text>
<polyline points="440.00,699.00 464.00,699.00" fill="none" stroke="#222" stroke-width="0.9" stroke-linejoin="miter" stroke-linecap="butt"/>
<polyline points="440.00,723.30 464.00,723.30" fill="none" stroke="#222" stroke-width="0.9" stroke-linejoin="miter" stroke-linecap="butt"/>
<polyline points="461.00,699.00 461.00,723.30" fill="none" stroke="#222" stroke-width="0.9" stroke-linejoin="miter" stroke-linecap="butt"/>
<polygon points="461.00,699.00 457.60,708.50 464.40,708.50" fill="#111"/>
<polygon points="461.00,723.30 464.40,713.80 457.60,713.80" fill="#111"/>
<text x="473.30" y="711.60" font-size="12.8" text-anchor="middle" dominant-baseline="central" transform="rotate(0.00 473.30 711.60)">4&#8243;</text>
<polyline points="356.70,726.20 345.80,746.80" fill="none" stroke="#222" stroke-width="0.9" stroke-linejoin="miter" stroke-linecap="butt"/>
<polyline points="399.20,749.20 387.00,772.30" fill="none" stroke="#222" stroke-width="0.9" stroke-linejoin="miter" stroke-linecap="butt"/>
<polyline points="347.00,744.40 356.09,749.46" fill="none" stroke="#222" stroke-width="0.9" stroke-linejoin="miter" stroke-linecap="butt"/>
<polyline points="379.21,762.34 388.30,767.40" fill="none" stroke="#222" stroke-width="0.9" stroke-linejoin="miter" stroke-linecap="butt"/>
<polygon points="347.00,744.40 353.65,751.99 356.95,746.05" fill="#111"/>
<polygon points="388.30,767.40 381.65,759.81 378.35,765.75" fill="#111"/>
<text x="367.70" y="759.00" font-size="12.8" text-anchor="middle" dominant-baseline="central" transform="rotate(28.00 367.70 759.00)">9.5&#8243;</text>
<polyline points="354.30,672.80 366.10,696.00" fill="none" stroke="#222" stroke-width="0.9" stroke-linejoin="miter" stroke-linecap="butt"/>
<polyline points="384.70,654.60 399.00,676.90" fill="none" stroke="#222" stroke-width="0.9" stroke-linejoin="miter" stroke-linecap="butt"/>
<polyline points="355.50,672.80 384.70,658.20" fill="none" stroke="#222" stroke-width="0.9" stroke-linejoin="miter" stroke-linecap="butt"/>
<polygon points="355.50,672.80 365.52,671.59 362.48,665.51" fill="#111"/>
<polygon points="384.70,658.20 374.68,659.41 377.72,665.49" fill="#111"/>
<text x="364.50" y="658.20" font-size="12.8" text-anchor="middle" dominant-baseline="central" transform="rotate(-30.00 364.50 658.20)">7.25&#8243;</text>
<polyline points="412.60,657.00 399.00,677.00" fill="none" stroke="#222" stroke-width="0.9" stroke-linejoin="miter" stroke-linecap="butt"/>
<polyline points="447.80,674.00 437.70,698.00" fill="none" stroke="#222" stroke-width="0.9" stroke-linejoin="miter" stroke-linecap="butt"/>
<polyline points="412.60,659.40 446.60,675.20" fill="none" stroke="#222" stroke-width="0.9" stroke-linejoin="miter" stroke-linecap="butt"/>
<polygon points="412.60,659.40 419.78,666.49 422.65,660.32" fill="#111"/>
<polygon points="446.60,675.20 439.42,668.11 436.55,674.28" fill="#111"/>
<text x="433.70" y="658.20" font-size="12.8" text-anchor="middle" dominant-baseline="central" transform="rotate(25.00 433.70 658.20)">7.5&#8243;</text>
<polyline points="555.00,672.20 582.00,672.20" fill="none" stroke="#222" stroke-width="0.9" stroke-linejoin="miter" stroke-linecap="butt"/>
<polyline points="555.00,700.00 582.00,700.00" fill="none" stroke="#222" stroke-width="0.9" stroke-linejoin="miter" stroke-linecap="butt"/>
<polyline points="559.50,672.20 559.50,700.00" fill="none" stroke="#222" stroke-width="0.9" stroke-linejoin="miter" stroke-linecap="butt"/>
<polygon points="559.50,672.20 556.10,681.70 562.90,681.70" fill="#111"/>
<polygon points="559.50,700.00 562.90,690.50 556.10,690.50" fill="#111"/>
<text x="536.80" y="687.30" font-size="12.8" text-anchor="middle" dominant-baseline="central" transform="rotate(0.00 536.80 687.30)">5.75&#8243;</text>
<polyline points="712.00,681.00 731.00,681.00" fill="none" stroke="#222" stroke-width="0.9" stroke-linejoin="miter" stroke-linecap="butt"/>
<polyline points="712.00,701.50 731.00,701.50" fill="none" stroke="#222" stroke-width="0.9" stroke-linejoin="miter" stroke-linecap="butt"/>
<polyline points="727.70,681.00 727.70,701.50" fill="none" stroke="#222" stroke-width="0.9" stroke-linejoin="miter" stroke-linecap="butt"/>
<polygon points="727.70,681.00 724.30,690.50 731.10,690.50" fill="#111"/>
<polygon points="727.70,701.50 731.10,692.00 724.30,692.00" fill="#111"/>
<text x="748.20" y="692.00" font-size="12.8" text-anchor="middle" dominant-baseline="central" transform="rotate(0.00 748.20 692.00)">3.25&#8243;</text>
<polyline points="582.60,703.00 570.00,725.20" fill="none" stroke="#222" stroke-width="0.9" stroke-linejoin="miter" stroke-linecap="butt"/>
<polyline points="648.80,739.40 636.20,764.60" fill="none" stroke="#222" stroke-width="0.9" stroke-linejoin="miter" stroke-linecap="butt"/>
<polyline points="571.50,724.20 584.44,731.02" fill="none" stroke="#222" stroke-width="0.9" stroke-linejoin="miter" stroke-linecap="butt"/>
<polyline points="621.97,750.80 636.20,758.30" fill="none" stroke="#222" stroke-width="0.9" stroke-linejoin="miter" stroke-linecap="butt"/>
<polygon points="571.50,724.20 578.32,731.64 581.49,725.62" fill="#111"/>
<polygon points="636.20,758.30 629.38,750.86 626.21,756.88" fill="#111"/>
<text x="603.00" y="741.00" font-size="12.8" text-anchor="middle" dominant-baseline="central" transform="rotate(28.00 603.00 741.00)">15.5&#8243;</text>
<polyline points="584.00,651.50 597.10,675.50" fill="none" stroke="#222" stroke-width="0.9" stroke-linejoin="miter" stroke-linecap="butt"/>
<polyline points="634.30,623.10 647.40,646.00" fill="none" stroke="#222" stroke-width="0.9" stroke-linejoin="miter" stroke-linecap="butt"/>
<polyline points="586.20,654.80 605.94,643.80" fill="none" stroke="#222" stroke-width="0.9" stroke-linejoin="miter" stroke-linecap="butt"/>
<polyline points="615.81,638.29 633.20,628.60" fill="none" stroke="#222" stroke-width="0.9" stroke-linejoin="miter" stroke-linecap="butt"/>
<polygon points="586.20,654.80 596.15,653.14 592.84,647.20" fill="#111"/>
<polygon points="633.20,628.60 623.25,630.26 626.56,636.20" fill="#111"/>
<text x="603.70" y="633.00" font-size="12.8" text-anchor="middle" dominant-baseline="central" transform="rotate(-30.00 603.70 633.00)">13.25&#8243;</text>
<polyline points="662.70,622.00 647.40,646.00" fill="none" stroke="#222" stroke-width="0.9" stroke-linejoin="miter" stroke-linecap="butt"/>
<polyline points="720.50,654.80 706.40,681.00" fill="none" stroke="#222" stroke-width="0.9" stroke-linejoin="miter" stroke-linecap="butt"/>
<polyline points="661.60,626.40 671.63,631.91" fill="none" stroke="#222" stroke-width="0.9" stroke-linejoin="miter" stroke-linecap="butt"/>
<polyline points="703.93,649.66 717.30,657.00" fill="none" stroke="#222" stroke-width="0.9" stroke-linejoin="miter" stroke-linecap="butt"/>
<polygon points="661.60,626.40 668.29,633.95 671.56,627.99" fill="#111"/>
<polygon points="717.30,657.00 710.61,649.45 707.34,655.41" fill="#111"/>
<text x="688.90" y="641.70" font-size="12.8" text-anchor="middle" dominant-baseline="central" transform="rotate(30.00 688.90 641.70)">13.5&#8243;</text>
<polyline points="175.00,857.30 200.00,857.30" fill="none" stroke="#222" stroke-width="0.9" stroke-linejoin="miter" stroke-linecap="butt"/>
<polyline points="175.00,888.50 200.00,888.50" fill="none" stroke="#222" stroke-width="0.9" stroke-linejoin="miter" stroke-linecap="butt"/>
<polyline points="179.30,857.30 179.30,888.50" fill="none" stroke="#222" stroke-width="0.9" stroke-linejoin="miter" stroke-linecap="butt"/>
<polygon points="179.30,857.30 175.90,866.80 182.70,866.80" fill="#111"/>
<polygon points="179.30,888.50 182.70,879.00 175.90,879.00" fill="#111"/>
<text x="158.90" y="873.20" font-size="12.8" text-anchor="middle" dominant-baseline="central" transform="rotate(0.00 158.90 873.20)">5.75&#8243;</text>
<polyline points="341.00,867.50 362.00,867.50" fill="none" stroke="#222" stroke-width="0.9" stroke-linejoin="miter" stroke-linecap="butt"/>
<polyline points="341.00,889.20 362.00,889.20" fill="none" stroke="#222" stroke-width="0.9" stroke-linejoin="miter" stroke-linecap="butt"/>
<polyline points="358.30,867.50 358.30,889.20" fill="none" stroke="#222" stroke-width="0.9" stroke-linejoin="miter" stroke-linecap="butt"/>
<polygon points="358.30,867.50 354.90,877.00 361.70,877.00" fill="#111"/>
<polygon points="358.30,889.20 361.70,879.70 354.90,879.70" fill="#111"/>
<text x="379.70" y="879.00" font-size="12.8" text-anchor="middle" dominant-baseline="central" transform="rotate(0.00 379.70 879.00)">3.25&#8243;</text>
<polyline points="199.70,892.00 187.80,914.00" fill="none" stroke="#222" stroke-width="0.9" stroke-linejoin="miter" stroke-linecap="butt"/>
<polyline points="274.40,931.00 260.80,956.50" fill="none" stroke="#222" stroke-width="0.9" stroke-linejoin="miter" stroke-linecap="butt"/>
<polyline points="189.50,912.30 202.33,919.34" fill="none" stroke="#222" stroke-width="0.9" stroke-linejoin="miter" stroke-linecap="butt"/>
<polyline points="246.54,943.58 260.80,951.40" fill="none" stroke="#222" stroke-width="0.9" stroke-linejoin="miter" stroke-linecap="butt"/>
<polygon points="189.50,912.30 196.19,919.85 199.46,913.89" fill="#111"/>
<polygon points="260.80,951.40 254.11,943.85 250.84,949.81" fill="#111"/>
<text x="226.80" y="932.70" font-size="12.8" text-anchor="middle" dominant-baseline="central" transform="rotate(28.00 226.80 932.70)">17.25&#8243;</text>
<polyline points="201.90,837.30 215.70,860.30" fill="none" stroke="#222" stroke-width="0.9" stroke-linejoin="miter" stroke-linecap="butt"/>
<polyline points="257.20,806.10 272.20,830.40" fill="none" stroke="#222" stroke-width="0.9" stroke-linejoin="miter" stroke-linecap="butt"/>
<polyline points="204.20,839.60 228.05,826.64" fill="none" stroke="#222" stroke-width="0.9" stroke-linejoin="miter" stroke-linecap="butt"/>
<polyline points="237.59,821.46 257.20,810.80" fill="none" stroke="#222" stroke-width="0.9" stroke-linejoin="miter" stroke-linecap="butt"/>
<polygon points="204.20,839.60 214.17,838.05 210.92,832.08" fill="#111"/>
<polygon points="257.20,810.80 247.23,812.35 250.48,818.32" fill="#111"/>
<text x="226.10" y="816.50" font-size="12.8" text-anchor="middle" dominant-baseline="central" transform="rotate(-30.00 226.10 816.50)">13.25&#8243;</text>
<polyline points="287.20,805.00 272.20,830.40" fill="none" stroke="#222" stroke-width="0.9" stroke-linejoin="miter" stroke-linecap="butt"/>
<polyline points="350.60,840.70 336.80,866.10" fill="none" stroke="#222" stroke-width="0.9" stroke-linejoin="miter" stroke-linecap="butt"/>
<polyline points="284.90,809.60 298.61,817.45" fill="none" stroke="#222" stroke-width="0.9" stroke-linejoin="miter" stroke-linecap="butt"/>
<polyline points="333.49,837.45 347.20,845.30" fill="none" stroke="#222" stroke-width="0.9" stroke-linejoin="miter" stroke-linecap="butt"/>
<polygon points="284.90,809.60 291.45,817.27 294.83,811.37" fill="#111"/>
<polygon points="347.20,845.30 340.65,837.63 337.27,843.53" fill="#111"/>
<text x="314.90" y="826.90" font-size="12.8" text-anchor="middle" dominant-baseline="central" transform="rotate(30.00 314.90 826.90)">14.75&#8243;</text>
<polyline points="436.00,805.00 463.00,805.00" fill="none" stroke="#222" stroke-width="0.9" stroke-linejoin="miter" stroke-linecap="butt"/>
<polyline points="436.00,888.20 463.00,888.20" fill="none" stroke="#222" stroke-width="0.9" stroke-linejoin="miter" stroke-linecap="butt"/>
<polyline points="440.10,805.00 440.10,834.00" fill="none" stroke="#222" stroke-width="0.9" stroke-linejoin="miter" stroke-linecap="butt"/>
<polyline points="440.10,858.00 440.10,888.20" fill="none" stroke="#222" stroke-width="0.9" stroke-linejoin="miter" stroke-linecap="butt"/>
<polygon points="440.10,805.00 436.70,814.50 443.50,814.50" fill="#111"/>
<polygon points="440.10,888.20 443.50,878.70 436.70,878.70" fill="#111"/>
<text x="436.00" y="846.00" font-size="12.8" text-anchor="middle" dominant-baseline="central" transform="rotate(0.00 436.00 846.00)">15&#8243;</text>
<polyline points="607.60,832.80 633.00,832.80" fill="none" stroke="#222" stroke-width="0.9" stroke-linejoin="miter" stroke-linecap="butt"/>
<polyline points="607.60,888.00 633.00,888.00" fill="none" stroke="#222" stroke-width="0.9" stroke-linejoin="miter" stroke-linecap="butt"/>
<polyline points="627.40,832.80 627.40,850.00" fill="none" stroke="#222" stroke-width="0.9" stroke-linejoin="miter" stroke-linecap="butt"/>
<polyline points="627.40,874.00 627.40,888.00" fill="none" stroke="#222" stroke-width="0.9" stroke-linejoin="miter" stroke-linecap="butt"/>
<polygon points="627.40,832.80 624.00,842.30 630.80,842.30" fill="#111"/>
<polygon points="627.40,888.00 630.80,878.50 624.00,878.50" fill="#111"/>
<text x="628.30" y="862.00" font-size="12.8" text-anchor="middle" dominant-baseline="central" transform="rotate(0.00 628.30 862.00)">10&#8243;</text>
<polyline points="462.00,885.40 450.00,909.40" fill="none" stroke="#222" stroke-width="0.9" stroke-linejoin="miter" stroke-linecap="butt"/>
<polyline points="540.80,928.10 527.50,953.50" fill="none" stroke="#222" stroke-width="0.9" stroke-linejoin="miter" stroke-linecap="butt"/>
<polyline points="452.70,905.40 467.92,913.94" fill="none" stroke="#222" stroke-width="0.9" stroke-linejoin="miter" stroke-linecap="butt"/>
<polyline points="513.58,939.56 528.80,948.10" fill="none" stroke="#222" stroke-width="0.9" stroke-linejoin="miter" stroke-linecap="butt"/>
<polygon points="452.70,905.40 459.32,913.01 462.65,907.08" fill="#111"/>
<polygon points="528.80,948.10 522.18,940.49 518.85,946.42" fill="#111"/>
<text x="491.40" y="925.40" font-size="12.8" text-anchor="middle" dominant-baseline="central" transform="rotate(28.00 491.40 925.40)">17.25&#8243;</text>
<polyline points="544.80,928.10 560.80,953.50" fill="none" stroke="#222" stroke-width="0.9" stroke-linejoin="miter" stroke-linecap="butt"/>
<polyline points="603.60,892.00 619.60,918.70" fill="none" stroke="#222" stroke-width="0.9" stroke-linejoin="miter" stroke-linecap="butt"/>
<polyline points="560.80,946.80 567.53,943.12" fill="none" stroke="#222" stroke-width="0.9" stroke-linejoin="miter" stroke-linecap="butt"/>
<polyline points="606.80,921.63 616.90,916.10" fill="none" stroke="#222" stroke-width="0.9" stroke-linejoin="miter" stroke-linecap="butt"/>
<polygon points="560.80,946.80 570.77,945.22 567.50,939.26" fill="#111"/>
<polygon points="616.90,916.10 606.93,917.68 610.20,923.64" fill="#111"/>
<text x="587.50" y="932.10" font-size="12.8" text-anchor="middle" dominant-baseline="central" transform="rotate(-30.00 587.50 932.10)">13.25&#8243;</text>
<polyline points="554.20,774.70 534.10,808.00" fill="none" stroke="#222" stroke-width="0.9" stroke-linejoin="miter" stroke-linecap="butt"/>
<polyline points="620.90,812.00 606.20,834.80" fill="none" stroke="#222" stroke-width="0.9" stroke-linejoin="miter" stroke-linecap="butt"/>
<polyline points="554.20,778.70 560.74,782.30" fill="none" stroke="#222" stroke-width="0.9" stroke-linejoin="miter" stroke-linecap="butt"/>
<polyline points="609.79,809.30 619.60,814.70" fill="none" stroke="#222" stroke-width="0.9" stroke-linejoin="miter" stroke-linecap="butt"/>
<polygon points="554.20,778.70 560.88,786.26 564.16,780.30" fill="#111"/>
<polygon points="619.60,814.70 612.92,807.14 609.64,813.10" fill="#111"/>
<text x="584.90" y="796.00" font-size="12.8" text-anchor="middle" dominant-baseline="central" transform="rotate(28.00 584.90 796.00)">14.75&#8243;</text>
<polyline points="121.80,731.40 162.70,754.70" fill="none" stroke="#111" stroke-width="1.1" stroke-linejoin="miter" stroke-linecap="butt"/>
<polyline points="359.90,697.20 400.70,720.90" fill="none" stroke="#111" stroke-width="1.1" stroke-linejoin="miter" stroke-linecap="butt"/>
<polyline points="586.60,674.40 650.20,711.80" fill="none" stroke="#111" stroke-width="1.1" stroke-linejoin="miter" stroke-linecap="butt"/>
<polyline points="204.10,860.30 275.10,901.30" fill="none" stroke="#111" stroke-width="1.1" stroke-linejoin="miter" stroke-linecap="butt"/>
<polyline points="466.50,807.00 543.30,852.10" fill="none" stroke="#111" stroke-width="1.1" stroke-linejoin="miter" stroke-linecap="butt"/>
<rect x="210.6" y="732.7" width="1.8" height="2" fill="#222"/>
<rect x="210.6" y="740" width="1.8" height="2" fill="#222"/>
<rect x="435.70000000000005" y="703.6" width="1.8" height="2" fill="#222"/>
<rect x="435.70000000000005" y="716.3" width="1.8" height="2" fill="#222"/>
<rect x="706.9" y="688.3" width="1.8" height="2" fill="#222"/>
<rect x="706.9" y="694.2" width="1.8" height="2" fill="#222"/>
<rect x="337.5" y="875.4" width="1.8" height="2" fill="#222"/>
<rect x="337.5" y="881.8" width="1.8" height="2" fill="#222"/>
</svg></body></html>
